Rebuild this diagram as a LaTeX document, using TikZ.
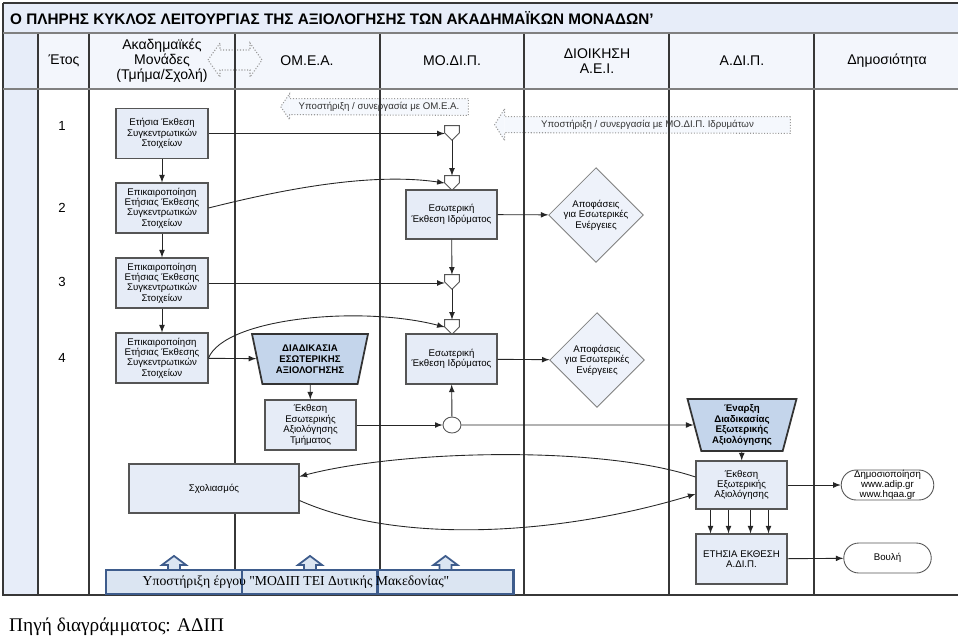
\documentclass[tikz,border=0pt]{standalone}
\usepackage{fontspec}
\setmainfont{Liberation Sans}
\newfontfamily\captionserif{Liberation Serif}
\usetikzlibrary{shapes.geometric,shapes.misc,calc}
\definecolor{boxblue}{RGB}{230,236,247}
\definecolor{diamblue}{RGB}{238,242,250}
\definecolor{trapblue}{RGB}{196,213,235}
\definecolor{barblue}{RGB}{231,237,249}
\definecolor{headblue}{RGB}{243,246,252}
\definecolor{supfill}{RGB}{245,248,253}
\definecolor{boxline}{RGB}{85,85,85}
\definecolor{laneline}{RGB}{55,55,55}
\definecolor{bandark}{RGB}{62,92,140}
\definecolor{banfill}{RGB}{219,229,242}

\begin{document}
\begin{tikzpicture}[x=0.02cm,y=-0.02cm,
    font=\fontsize{5.5}{5.9}\selectfont,
    lane/.style={draw=laneline, line width=0.7pt},
    procbox/.style={rectangle, draw=boxline, fill=boxblue, line width=0.6pt, align=center, inner sep=1pt, minimum width=1.84cm, minimum height=1cm},
    decbox/.style={diamond, draw=gray, fill=diamblue, line width=0.5pt, align=center, inner sep=0pt, minimum width=1.76cm, minimum height=1.64cm},
    trapbox/.style={trapezium, shape border rotate=180, trapezium stretches body, draw=black!80, fill=trapblue, line width=1pt, align=center, inner sep=1pt, font=\fontsize{5.5}{6.2}\selectfont\bfseries},
    mergept/.style={rectangle, minimum size=0.28cm, inner sep=0pt},
    mergeline/.style={draw=boxline, fill=white, line width=0.5pt},
    termbox/.style={rounded rectangle, draw=boxline, line width=0.5pt, align=center, minimum width=1.82cm, minimum height=0.6cm, inner xsep=1pt, inner ysep=0pt, font=\fontsize{5.5}{5.6}\selectfont},
    arr/.style={-latex, line width=0.5pt, draw=black!85},
    supbox/.style={fill=supfill, inner sep=0pt, text=black!80},
    supline/.style={draw=gray!80, densely dotted, line width=0.6pt},
    bannercell/.style={rectangle, draw=bandark, fill=banfill, line width=1.2pt, minimum width=2.72cm, minimum height=0.48cm},
    upline/.style={draw=bandark, fill=banfill, line width=1pt},
    header/.style={font=\fontsize{8}{8.6}\selectfont, align=center}]
\useasboundingbox (0,0) rectangle (960,637);

\fill[barblue] (3,3) rectangle (958,33);
\fill[headblue] (38,33) rectangle (958,89);
\fill[barblue] (3,33) rectangle (38,595);
\node[anchor=west, font=\fontsize{8.7}{9}\selectfont\bfseries] (title) at (4,18) {Ο ΠΛΗΡΗΣ ΚΥΚΛΟΣ ΛΕΙΤΟΥΡΓΙΑΣ ΤΗΣ ΑΞΙΟΛΟΓΗΣΗΣ ΤΩΝ ΑΚΑΔΗΜΑΪΚΩΝ ΜΟΝΑΔΩΝ’};

\node[header] (hyear) at (64,61) {Έτος};
\node[header] (hacad) at (162,61) {Ακαδημαϊκές\\Μονάδες\\(Τμήμα/Σχολή)};
\node[header] (homea) at (307,61) {ΟΜ.Ε.Α.};
\node[header] (hmodip) at (452,61) {ΜΟ.ΔΙ.Π.};
\node[header] (hadmin) at (597,61) {ΔΙΟΙΚΗΣΗ\\Α.Ε.Ι.};
\node[header] (hadip) at (742,61) {Α.ΔΙ.Π.};
\node[header] (hpub) at (887,61) {Δημοσιότητα};

\draw[supline, fill=supfill] (208,60) -- (220,43) -- (220,50) -- (250,50) -- (250,43) -- (262,60) -- (250,77) -- (250,70) -- (220,70) -- (220,77) -- cycle;

\node[supbox, minimum width=3.56cm, minimum height=0.32cm] (supomea) at (379,107) {Υποστήριξη / συνεργασία με ΟΜ.Ε.Α.};
\fill[supfill] (supomea.north west) -- ++(0,-5) -- ++(-9,13) -- ++(9,13) -- ++(0,-5) -- cycle;
\draw[supline] (supomea.north east) -- (supomea.north west) -- ++(0,-5) -- ++(-9,13) -- ++(9,13) -- ++(0,-5) -- (supomea.south east) -- cycle;
\node[supbox, minimum width=5.7cm, minimum height=0.32cm] (supmodip) at (647.5,125) {Υποστήριξη / συνεργασία με ΜΟ.ΔΙ.Π. Ιδρυμάτων};
\fill[supfill] (supmodip.north west) -- ++(0,-8) -- ++(-10,16) -- ++(10,16) -- ++(0,-8) -- cycle;
\draw[supline] (supmodip.north east) -- (supmodip.north west) -- ++(0,-8) -- ++(-10,16) -- ++(10,16) -- ++(0,-8) -- (supmodip.south east) -- cycle;

\foreach \lx in {38,89,235,380,524,669,814}
    \draw[lane] (\lx,33) -- (\lx,595);
\draw[lane] (3,3) -- (958,3);
\draw[lane] (3,3) -- (3,595) -- (958,595);
\draw[lane, draw=gray, line width=1.2pt] (3,33) -- (958,33);
\draw[lane, draw=gray, line width=1.2pt] (3,89) -- (958,89);

\foreach \n/\yy in {1/126,2/208,3/282,4/358}
    \node[font=\fontsize{7.5}{9}\selectfont] (year\n) at (62,\yy) {\n};

\node[procbox] (acad1) at (162,133.5) {Ετήσια Έκθεση\\Συγκεντρωτικών\\Στοιχείων};
\foreach \n/\yy in {2/208,3/283,4/358}
    \node[procbox] (acad\n) at (162,\yy) {Επικαιροποίηση\\Ετήσιας Έκθεσης\\Συγκεντρωτικών\\Στοιχείων};

\foreach \n/\yy in {1/133,2/183,3/282,4/327} {
    \node[mergept] (merge\n) at (452,\yy) {};
    \draw[mergeline] (merge\n.north west) -- (merge\n.north east) -- (merge\n.east) -- (merge\n.south) -- (merge\n.west) -- cycle;
}

\node[procbox, minimum width=1.82cm, minimum height=0.98cm] (intrep1) at (451.5,214.5) {Εσωτερική\\Έκθεση Ιδρύματος};
\node[procbox, minimum width=1.82cm] (intrep2) at (451.5,359) {Εσωτερική\\Έκθεση Ιδρύματος};
\node[decbox] (dec1) at (596,215) {Αποφάσεις\\για Εσωτερικές\\Ενέργειες};
\node[decbox] (dec2) at (597,360) {Αποφάσεις\\για Εσωτερικές\\Ενέργειες};

\node[trapbox, minimum width=2.32cm, minimum height=1cm, trapezium angle=72] (intproc) at (310,359) {ΔΙΑΔΙΚΑΣΙΑ\\ΕΣΩΤΕΡΙΚΗΣ\\ΑΞΙΟΛΟΓΗΣΗΣ};
\node[procbox, minimum width=1.82cm] (deprep) at (310.5,425) {Έκθεση\\Εσωτερικής\\Αξιολόγησης\\Τμήματος};
\node[ellipse, draw=boxline, fill=white, line width=0.5pt, inner sep=0pt, minimum width=0.36cm, minimum height=0.32cm] (join) at (452,425) {};
\node[trapbox, minimum width=2.18cm, minimum height=1.04cm, trapezium angle=73] (extstart) at (742,425) {Έναρξη\\Διαδικασίας\\Εξωτερικής\\Αξιολόγησης};
\node[procbox, minimum width=1.82cm, minimum height=0.96cm] (extrep) at (741.5,485) {Έκθεση\\Εξωτερικής\\Αξιολόγησης};
\node[procbox, minimum width=1.82cm] (annual) at (741.5,559) {ΕΤΗΣΙΑ ΕΚΘΕΣΗ\\Α.ΔΙ.Π.};
\node[termbox] (publish) at (887.5,485) {Δημοσιοποίηση\\www.adip.gr\\www.hqaa.gr};
\node[termbox] (parliament) at (887.5,558) {Βουλή};
\node[procbox, minimum width=3.4cm, minimum height=0.98cm] (comment) at (214,488.5) {Σχολιασμός};

\foreach \a/\b in {1/2,2/3,3/4}
    \draw[arr] (acad\a) -- (acad\b);
\draw[arr] (acad1.east) -- (acad1.east -| merge1.west);
\draw[arr] (merge1) -- (merge2);
\draw[arr] (acad2.east) .. controls (280,190) and (370,172) .. (merge2.west);
\draw[arr] (intrep1) -- (merge3);
\draw[arr] (acad3.east) -- (acad3.east -| merge3.west);
\draw[arr] (merge3) -- (merge4);
\draw[arr] (acad4.east) .. controls (225,318) and (360,305) .. (merge4.west);
\draw[arr] (acad4) -- (intproc);
\draw[arr] (intrep1) -- (dec1);
\draw[arr] (intrep2) -- (dec2);
\draw[arr] (intproc) -- (deprep);
\draw[arr] (deprep) -- (join);
\draw[arr] (join) -- (intrep2);
\draw[arr] (join) -- (extstart);
\draw[arr] (extstart) -- (extrep);
\foreach \dx in {-31,-13,9,27}
    \draw[arr] ($(extrep.south)+(\dx,0)$) -- ($(annual.north)+(\dx,0)$);
\draw[arr] (extrep) -- (publish);
\draw[arr] (annual) -- (parliament);
\draw[arr] ($(extrep.west)+(0,-8)$) .. controls (600,445) and (400,450) .. ($(comment.east)+(0,-12)$);
\draw[arr] ($(comment.east)+(0,12)$) .. controls (400,545) and (560,535) .. ($(extrep.west)+(0,9)$);

\foreach \n/\bx in {1/174,2/310,3/445.5}
    \node[bannercell] (ban\n) at (\bx,582) {};
\foreach \n in {1,2,3}
    \draw[upline] ($(ban\n.north)+(-6,0)$) -- ++(0,-4) -- ++(-6,0) -- ++(12,-9) -- ++(12,9) -- ++(-6,0) -- ++(0,4);
\node[font=\captionserif\fontsize{7.8}{9}\selectfont] (bantext) at (296,582) {Υποστήριξη έργου "ΜΟΔΙΠ ΤΕΙ Δυτικής Μακεδονίας"};

\node[anchor=west, font=\captionserif\fontsize{11}{13}\selectfont] (source) at (3,627) {Πηγή διαγράμματος: ΑΔΙΠ};
\end{tikzpicture}
\end{document}
